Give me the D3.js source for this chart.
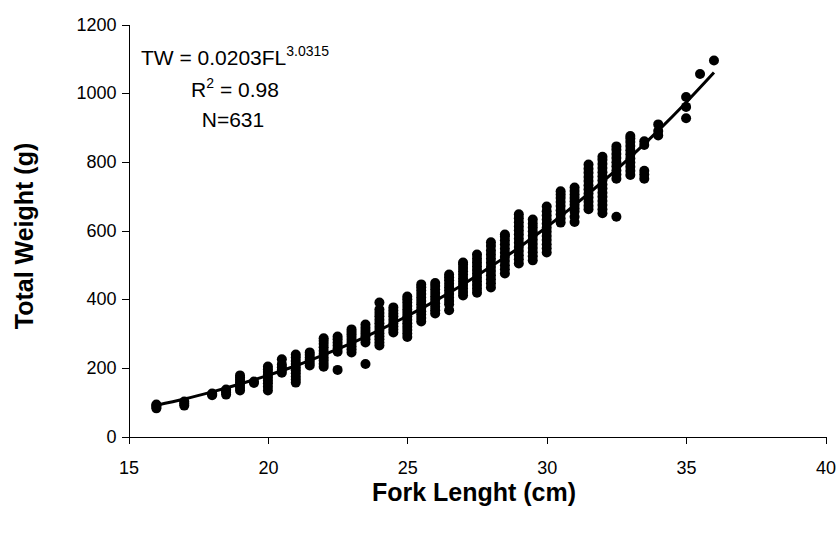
<!DOCTYPE html>
<html>
<head>
<meta charset="utf-8">
<script src="https://cdn.jsdelivr.net/npm/d3@7"></script>
<style>
  html, body { margin: 0; padding: 0; background: #fff; }
  svg text { font-family: "Liberation Sans", Arial, sans-serif; fill: #000; }
  .axis text { font-size: 18px; }
  .axis path, .axis line { stroke: #000; stroke-width: 1; shape-rendering: crispEdges; }
  .axis-title { font-size: 25px; font-weight: bold; }
  .note { font-size: 21px; }
</style>
</head>
<body>
<div id="chart"></div>
<script>
// Fork length classes (cm) and the weights (g) read for each class
const lengths = [16, 17, 18, 18.5, 19, 19.5, 20, 20.5, 21, 21.5, 22, 22.5, 23, 23.5,
  24, 24.5, 25, 25.5, 26, 26.5, 27, 27.5, 28, 28.5, 29, 29.5, 30, 30.5, 31, 31.5,
  32, 32.5, 33, 33.5, 34, 35, 35.5, 36];

const weights = [
  [82, 86, 90, 93],
  [90, 96, 102],
  [120, 123, 125],
  [122, 128, 133, 137],
  [134, 142, 150, 158, 165, 172, 178],
  [156, 160],
  [134, 145, 155, 163, 172, 180, 188, 196, 204],
  [186, 194, 202, 210, 225],
  [157, 166, 175, 184, 193, 202, 211, 220, 230, 239],
  [207, 215, 223, 230, 238, 245],
  [203, 212, 221, 230, 240, 250, 260, 270, 279, 286],
  [194, 247, 256, 265, 274, 283, 291],
  [245, 254, 263, 272, 281, 290, 298, 305, 312],
  [211, 274, 283, 292, 300, 308, 317, 326],
  [265, 274, 283, 292, 301, 310, 320, 330, 340, 350, 360, 370, 390],
  [303, 312, 321, 330, 340, 350, 358, 367, 376],
  [290, 300, 310, 320, 330, 340, 350, 360, 370, 380, 390, 400, 408],
  [335, 345, 355, 365, 375, 385, 395, 405, 415, 425, 435, 443],
  [358, 368, 378, 388, 398, 408, 418, 428, 438, 447],
  [368, 385, 395, 405, 415, 425, 435, 445, 455, 464, 472],
  [411, 421, 431, 441, 451, 461, 471, 481, 491, 500, 507],
  [419, 430, 441, 452, 463, 474, 485, 496, 507, 518, 530],
  [434, 446, 458, 470, 482, 494, 506, 518, 530, 542, 555, 566],
  [475, 487, 499, 511, 523, 535, 547, 559, 571, 582, 588],
  [504, 516, 528, 540, 552, 564, 576, 588, 600, 612, 624, 636, 647],
  [513, 525, 537, 549, 561, 573, 585, 597, 609, 620, 632],
  [536, 548, 560, 572, 584, 596, 608, 620, 632, 644, 656, 670],
  [623, 635, 647, 659, 671, 683, 695, 705, 714],
  [625, 640, 655, 665, 675, 685, 695, 705, 715, 725],
  [662, 672, 684, 696, 708, 720, 732, 744, 756, 768, 780, 792],
  [650, 662, 674, 686, 698, 710, 722, 734, 746, 758, 770, 782, 794, 806, 815],
  [640, 751, 763, 775, 787, 799, 811, 823, 835, 845],
  [762, 774, 786, 798, 810, 822, 834, 846, 858, 868, 875],
  [751, 763, 774, 849, 860],
  [877, 890, 909],
  [927, 960, 989],
  [1056],
  [1095]
];

// Power trendline, read at whole centimetres
const fitLengths = [16, 17, 18, 19, 20, 21, 22, 23, 24, 25, 26, 27, 28, 29, 30, 31, 32, 33, 34, 35, 36];
const fitWeights = [91, 109, 130, 153, 178, 206, 238, 272, 310, 351, 395, 443, 495, 550, 610, 674, 742, 814, 891, 973, 1060];

const xTicks = [15, 20, 25, 30, 35, 40];
const yTicks = [0, 200, 400, 600, 800, 1000, 1200];

const W = 838, H = 536;
const svg = d3.select('#chart').append('svg')
  .attr('width', W).attr('height', H);

const x = d3.scaleLinear().domain([15, 40]).range([128.5, 825.5]);
const y = d3.scaleLinear().domain([0, 1200]).range([436.5, 24.5]);

// Axes
svg.append('g').attr('class', 'axis')
  .attr('transform', `translate(0,${y(0)})`)
  .call(d3.axisBottom(x).tickValues(xTicks).tickFormat(d3.format('d'))
    .tickSize(7).tickSizeOuter(0).tickPadding(18));

svg.append('g').attr('class', 'axis')
  .attr('transform', `translate(${x(15)},0)`)
  .call(d3.axisLeft(y).tickValues(yTicks).tickFormat(d3.format('d'))
    .tickSize(7).tickSizeOuter(0).tickPadding(5));

// Points
const points = lengths.flatMap((fl, i) => weights[i].map(w => ({ fl, w })));
svg.append('g')
  .selectAll('circle')
  .data(points)
  .join('circle')
    .attr('cx', d => x(d.fl))
    .attr('cy', d => y(d.w))
    .attr('r', 5)
    .attr('fill', '#000');

// Trendline
const fit = fitLengths.map((fl, i) => ({ fl, w: fitWeights[i] }));
svg.append('path')
  .datum(fit)
  .attr('fill', 'none')
  .attr('stroke', '#000')
  .attr('stroke-width', 3)
  .attr('d', d3.line().x(d => x(d.fl)).y(d => y(d.w)).curve(d3.curveMonotoneX));

// Equation box
const eq = svg.append('text').attr('class', 'note')
  .attr('x', 235).attr('y', 65).attr('text-anchor', 'middle');
eq.append('tspan').text('TW = 0.0203FL');
eq.append('tspan').attr('font-size', 14).attr('dy', -9).text('3.0315');

const r2 = svg.append('text').attr('class', 'note')
  .attr('x', 235).attr('y', 97).attr('text-anchor', 'middle');
r2.append('tspan').text('R');
r2.append('tspan').attr('font-size', 14).attr('dy', -9).text('2');
r2.append('tspan').attr('dy', 9).text(' = 0.98');

svg.append('text').attr('class', 'note')
  .attr('x', 233).attr('y', 127).attr('text-anchor', 'middle')
  .text('N=631');

// Axis titles
svg.append('text').attr('class', 'axis-title')
  .attr('x', 474).attr('y', 501).attr('text-anchor', 'middle')
  .text('Fork Lenght (cm)');

svg.append('text').attr('class', 'axis-title')
  .attr('transform', 'translate(33,236) rotate(-90)')
  .attr('text-anchor', 'middle')
  .text('Total Weight (g)');
</script>
</body>
</html>
